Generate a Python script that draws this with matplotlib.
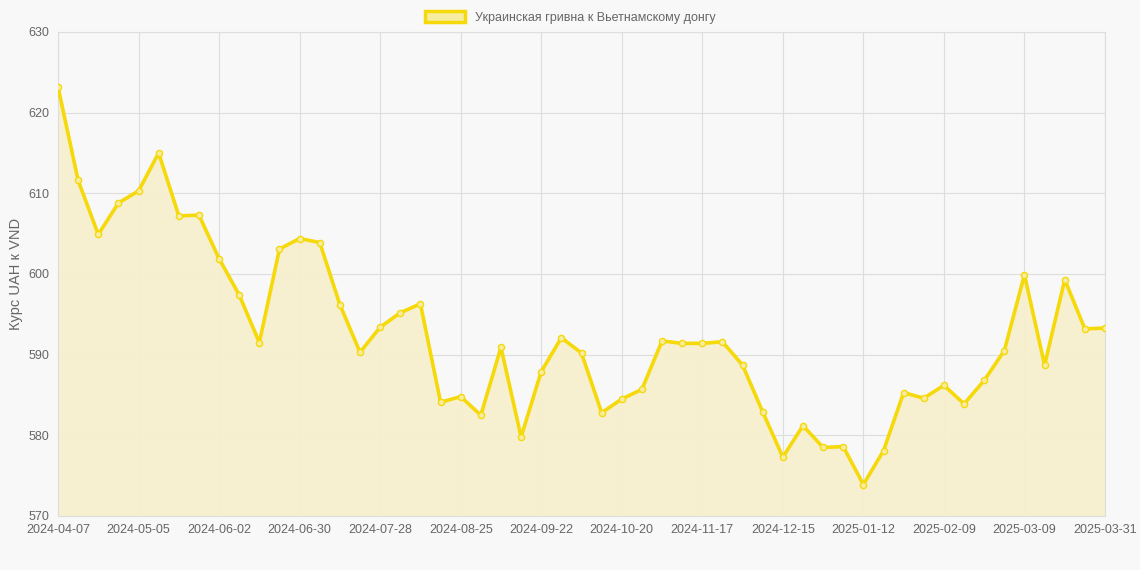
import matplotlib
matplotlib.use("Agg")
import matplotlib.pyplot as plt
import matplotlib.patches as mpatches
import datetime as dt

plt.rcParams['font.family'] = ['Liberation Sans', 'DejaVu Sans']

start = dt.date(2024, 4, 7)
dates = [(start + dt.timedelta(weeks=i)).isoformat() for i in range(52)] + ["2025-03-31"]
values = [623.2, 611.6, 604.9, 608.8, 610.3, 615.0, 607.2, 607.3, 601.9, 597.4,
          591.5, 603.1, 604.4, 603.9, 596.2, 590.3, 593.4, 595.2, 596.3, 584.1,
          584.8, 582.5, 590.9, 579.8, 587.9, 592.1, 590.2, 582.8, 584.5, 585.7,
          591.7, 591.4, 591.4, 591.6, 588.7, 582.9, 577.3, 581.2, 578.5, 578.6,
          573.9, 578.1, 585.3, 584.6, 586.2, 583.9, 586.8, 590.5, 599.9, 588.7,
          599.3, 593.2, 593.3]
label = "Украинская гривна к Вьетнамскому донгу"
ylabel = "Курс UAH к VND"

bg = "#f8f8f8"
line_c = "#f5d90a"
fig = plt.figure(figsize=(11.4, 5.7), dpi=100, facecolor=bg)
ax = fig.add_axes([58/1140, 1-516/570, (1105-58)/1140, (516-32)/570])
ax.set_facecolor(bg)
x = list(range(len(values)))
ax.fill_between(x, values, 570, color="#f7f0cc", alpha=0.9, zorder=1)
ax.plot(x, values, color=line_c, lw=2.6, zorder=3)
ax.scatter(x, values, s=20, facecolor="#f7eda0", edgecolor=line_c, lw=1, zorder=4)
ax.set_xlim(0, len(values)-1)
ax.set_ylim(570, 630)
ticks = list(range(0, 49, 4)) + [52]
ax.set_xticks(ticks)
ax.set_xticklabels([dates[i] for i in ticks])
ax.set_yticks(range(570, 631, 10))
ax.grid(True, color="#dddddd", lw=0.8)
ax.set_axisbelow(True)
for s in ax.spines.values():
    s.set_color("#dddddd")
ax.tick_params(colors="#666666", labelsize=9, length=0, pad=6)
ax.set_ylabel(ylabel, color="#666666", fontsize=10.5)
h = mpatches.Patch(facecolor="#f7eda0", edgecolor=line_c, lw=2.5, label=label)
fig.legend(handles=[h], loc="upper center", bbox_to_anchor=(0.5, 1.0), frameon=False,
           fontsize=9, labelcolor="#666666", handlelength=3.2, handleheight=1.0)
fig.savefig("out.png", dpi=100, facecolor=bg)
